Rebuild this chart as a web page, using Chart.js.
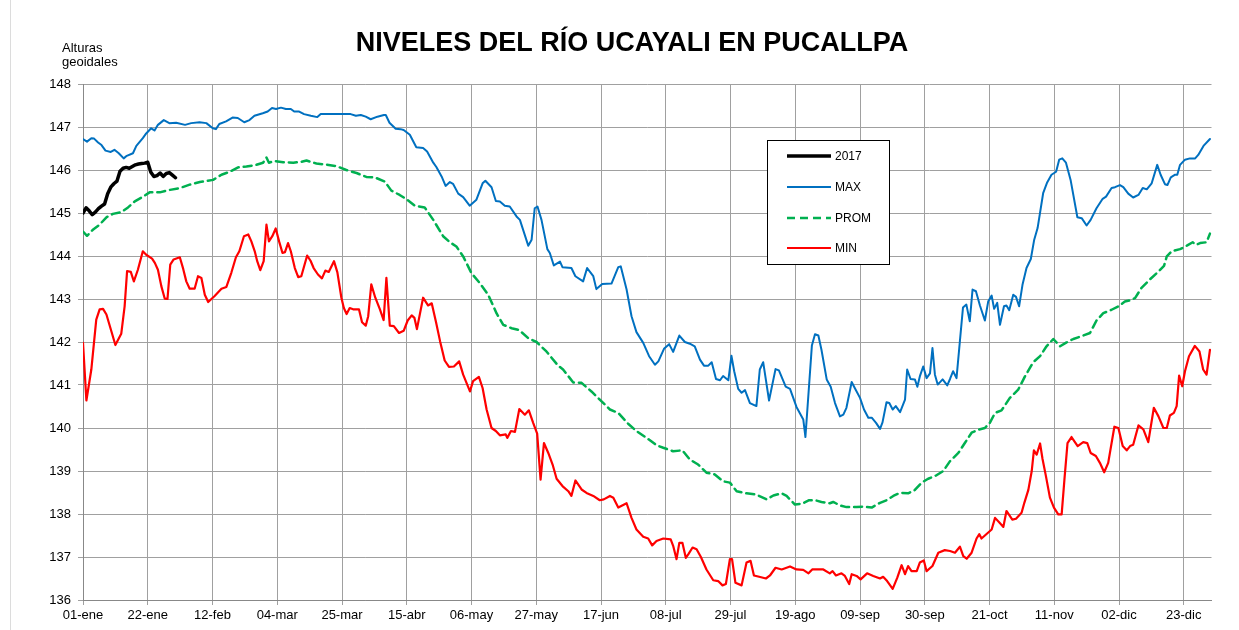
<!DOCTYPE html>
<html><head><meta charset="utf-8">
<script src="https://cdn.jsdelivr.net/npm/chart.js@4.4.1/dist/chart.umd.min.js"></script>
<style>html,body{margin:0;padding:0;background:#fff;}#wrap{position:relative;width:1239px;height:630px;}</style>
</head><body><div id="wrap"><canvas id="c" width="1239" height="630"></canvas></div>
<script>
const chartTitle = 'NIVELES DEL RÍO UCAYALI EN PUCALLPA';
const yTitleLines = ['Alturas', 'geoidales'];
const tickDays = [0,21,42,63,84,105,126,147,168,189,210,231,252,273,294,315,336,357];
const tickLabels = ['01-ene','22-ene','12-feb','04-mar','25-mar','15-abr','06-may','27-may','17-jun','08-jul','29-jul','19-ago','09-sep','30-sep','21-oct','11-nov','02-dic','23-dic'];
const seriesNames = ['2017','MAX','PROM','MIN'];

const days2017 = [0,1,2,3,4,5,6,7,8,9,10,11,12,13,14,15,16,17,18,19,20,21,22,23,24,25,26,27,28,29,30];
const vals2017 = [145.00,145.12,145.05,144.96,145.02,145.10,145.16,145.21,145.45,145.60,145.68,145.74,145.97,146.04,146.06,146.04,146.08,146.12,146.14,146.15,146.16,146.18,145.95,145.85,145.87,145.93,145.85,145.92,145.94,145.88,145.82];

const daysMax = [0,1.3,2.7,3.6,4.9,6,7.3,9,10.2,11.6,13.2,14.2,16.2,17.3,19.4,20.5,22.1,23.2,24.3,26.2,28,30.2,33.1,35.1,37.8,40,42.1,43.1,44.2,46.4,48.5,50.2,52.3,54,55.6,58.3,59.9,61.3,62.6,64.2,65.8,67.4,68.5,70.1,71.7,73.9,76,77.1,79.3,81.4,84.1,86.8,88.5,90.1,91.7,93.3,95.5,97.6,98.2,99.4,101.4,103,104,106,108.1,110.3,111.6,113.6,114.6,116.3,117.6,119,120,121.7,123.3,125.4,127.6,129.6,130.5,132.5,133.9,135.2,136.8,138.4,140.6,141.7,144.4,145.5,146.5,147.4,148.7,150.6,151.4,152.7,154.7,155.5,158.4,159.7,162.2,163.5,165.5,166.5,168.4,171.4,173.6,174.4,176.3,177.9,179.5,181.7,183.6,185.5,186.6,188.5,190.1,191.4,193.4,195.2,196.8,198.4,200.1,201.4,202.8,203.9,205.3,206.6,207.6,209.3,210.3,211.2,212.5,213.6,214.7,216.3,218.4,219.5,220.6,222.5,224.6,225.7,227.9,229.3,231.4,233.6,234.3,236.4,237.4,238.5,239.5,241.2,242.5,243.9,245.5,246.6,247.6,249.3,250.3,252,253.3,254.7,255.8,257.2,258.5,259.3,260.6,261.5,262.6,263.6,265,266.6,267.3,268.4,269.8,270.6,271.4,272.5,273.6,274.7,275.5,276.3,277.2,278.8,280.3,281.2,282.2,283.3,284.4,285.4,286.5,287.6,288.5,289.6,290.9,292.5,293.6,294.7,295.5,296.5,297.4,298.7,299.5,300.4,301.7,302.6,303.6,304.7,306,307.4,308.5,309.6,311.4,312.7,314.1,315.6,316.6,317.6,318.8,320.3,322.5,323.9,325.5,326.8,328.7,330.7,331.8,333.6,334.7,336.3,337.4,339,340.6,342.3,343.7,345,346.6,348.4,349.5,350.9,351.7,352.8,354.2,354.9,355.8,357.4,359,360.7,361.7,363.4,365.5];
const valsMax = [146.72,146.66,146.74,146.73,146.64,146.58,146.45,146.42,146.47,146.39,146.27,146.33,146.39,146.56,146.74,146.85,146.97,146.92,147.05,147.16,147.09,147.10,147.05,147.09,147.11,147.09,146.97,146.95,147.07,147.13,147.22,147.21,147.11,147.16,147.26,147.32,147.36,147.44,147.42,147.45,147.42,147.42,147.36,147.36,147.30,147.26,147.23,147.30,147.30,147.30,147.30,147.30,147.26,147.28,147.24,147.18,147.24,147.28,147.28,147.10,146.96,146.95,146.93,146.82,146.53,146.51,146.43,146.17,146.07,145.85,145.63,145.72,145.68,145.45,145.37,145.17,145.31,145.69,145.75,145.60,145.28,145.27,145.17,145.15,144.92,144.84,144.24,144.38,145.11,145.15,144.84,144.16,144.07,143.78,143.87,143.74,143.72,143.53,143.41,143.72,143.53,143.23,143.35,143.36,143.74,143.76,143.22,142.60,142.23,141.98,141.67,141.47,141.55,141.85,141.95,141.77,142.15,142.00,141.96,141.90,141.59,141.45,141.45,141.53,141.14,141.11,141.21,141.11,141.68,141.32,140.91,140.82,140.88,140.58,140.51,141.36,141.53,140.64,141.37,141.34,140.96,140.91,140.49,140.20,139.79,141.92,142.18,142.15,141.82,141.13,140.96,140.58,140.27,140.31,140.47,141.07,140.93,140.70,140.43,140.24,140.24,140.12,139.98,140.13,140.60,140.58,140.43,140.51,140.37,140.66,141.36,141.14,141.13,140.96,141.20,141.43,141.16,141.27,141.86,141.24,141.01,141.13,140.99,141.14,141.32,141.16,142.02,142.80,142.87,142.48,143.22,143.18,142.85,142.50,142.95,143.08,142.77,142.91,142.40,142.83,142.85,142.74,143.10,143.05,142.83,143.33,143.72,143.93,144.38,144.65,145.46,145.71,145.89,145.96,146.24,146.27,146.17,145.77,144.90,144.88,144.71,144.84,145.11,145.33,145.38,145.58,145.60,145.65,145.60,145.45,145.36,145.42,145.58,145.55,145.69,146.12,145.89,145.67,145.65,145.83,145.89,145.89,146.12,146.24,146.27,146.27,146.35,146.56,146.72];

const daysProm = [0,1.3,3.2,5.4,7.6,9.7,12.4,14.6,16.8,19.5,21.6,24.9,27.6,31.4,34.6,37.9,42.2,44.9,47.6,50.3,53,56.2,58.4,59.5,60.3,62.2,64.9,68.2,70.8,72.5,75.7,78.4,82.2,85.4,88.7,91.9,94.6,97.9,100,102.7,104.9,107.6,110.8,113.6,116.8,119,121.1,123.3,126,128.7,131.4,134.1,136.3,139,141.4,144.4,147.1,150.3,154.1,155.7,159,161.7,164.9,167.6,170.9,173.6,176.8,179.5,182.8,186,188.2,191.4,194.4,196.8,199.5,202.2,204.9,207.6,209.8,212,215.2,218.4,221.7,223.9,226.6,228.2,230.9,233.2,235.5,237.5,239.5,242.2,243.3,245.5,247.6,250.9,253,255.8,258.5,260.6,262.8,264.9,267.6,269.8,272,274.1,276.8,279,281.2,283.9,286,288.2,290.4,292.5,294.1,295.8,297.9,300.6,303.3,305.5,308.2,310.4,312.5,314.7,316.9,319,321.2,324.4,326.6,328.7,330.9,333.6,335.8,337.9,339.6,341.2,343.3,346.1,348.8,350.6,351.5,353.1,355.8,358,359.9,361,362.3,364.4,365.5];
const valsProm = [144.57,144.47,144.61,144.73,144.90,144.98,145.02,145.13,145.27,145.38,145.48,145.48,145.53,145.58,145.66,145.72,145.77,145.89,145.96,146.06,146.08,146.12,146.17,146.29,146.17,146.21,146.18,146.17,146.19,146.22,146.15,146.13,146.09,146.00,145.93,145.84,145.83,145.73,145.52,145.42,145.32,145.17,145.13,144.84,144.46,144.32,144.22,143.99,143.60,143.37,143.10,142.67,142.40,142.32,142.28,142.09,142.00,141.78,141.45,141.36,141.06,141.05,140.85,140.66,140.43,140.35,140.10,139.93,139.77,139.60,139.54,139.46,139.48,139.27,139.15,138.96,138.92,138.76,138.73,138.53,138.48,138.45,138.34,138.43,138.48,138.42,138.22,138.24,138.32,138.32,138.28,138.25,138.28,138.20,138.16,138.16,138.17,138.15,138.26,138.32,138.42,138.49,138.48,138.56,138.73,138.82,138.90,139.00,139.23,139.42,139.65,139.89,139.96,140.00,140.12,140.35,140.41,140.70,140.89,141.20,141.53,141.67,141.90,142.07,141.90,141.99,142.07,142.15,142.21,142.50,142.67,142.75,142.83,142.94,142.97,143.02,143.26,143.46,143.64,143.77,143.99,144.11,144.16,144.24,144.32,144.26,144.30,144.32,144.52];

const daysMin = [0,1.1,2.7,4.3,5.4,6.5,7.6,9.2,10.5,12.4,13.5,14.3,15.5,16.5,17.8,19.4,20.5,22.4,23.3,24.3,25.4,26.5,27.4,28.3,29.4,31.4,32.5,33.5,34.6,36.2,37.3,38.4,39.5,40.6,42.7,44.9,46.5,48.1,49.6,50.7,52.2,53.6,54.6,55.7,56.5,57.5,58.6,59.5,60.3,61.4,62.5,63.6,64.7,65.5,66.5,67.4,68.7,69.8,70.8,72.7,73.8,74.8,76.2,77.5,78.6,79.7,81.4,82.5,83.8,84.6,85.5,86.5,87.6,89.5,90.5,91.7,92.5,93.5,94.8,96.3,97.5,98.4,99.5,100.8,102.5,104,105.3,106.6,107.5,108.3,110.3,111.9,113.1,114.5,115.8,117.3,118.7,120.3,122,123.3,125.5,126.5,128.4,129.6,130.9,132.5,133.9,135.2,137.1,137.6,138.8,140.1,141.5,143.3,144.6,146,147.3,148.4,149.5,150.9,152.3,153.6,155.5,157.4,158.4,159.7,161.7,163.3,165.5,167.6,168.9,170.9,172,173.6,176.3,177.9,179.5,181.7,183.3,184.6,186,188.2,190.6,191.4,192.5,193.4,194.4,195.5,196.3,197.7,199,200.4,202.2,204.4,206,207.4,208.5,209.8,210.5,211.6,213.6,215.2,216.5,217.6,219.3,221.5,222.8,224.6,226.6,229.3,231.4,233.6,235.3,236.5,240.1,242.2,243.1,244.2,246,247.1,248.5,249.3,250.9,252.2,254.3,256.3,258.5,259.5,260.8,262.6,264.1,265.5,266.6,267.6,268.7,270.4,271.4,272.7,273.6,275.5,277.4,279.5,281.2,282.8,284.4,285.5,286.6,288.2,289.8,290.7,291.4,293.6,294.7,295.8,297.2,298.5,299.5,301.4,302.6,304.4,305.3,306.6,307.7,308.4,309.3,310.4,311.2,312.3,313.6,314.9,316.3,317.4,318.3,319.3,320.6,322.6,324.4,325.7,326.8,328.5,329.8,331.2,332.5,334.5,335.8,337.2,338.5,339.6,340.6,342.3,343.9,345.5,347.3,348.8,350.4,351.5,352.5,353.8,354.7,355.5,356.5,357.4,358.7,360.6,362.1,363.3,364.4,365.5];
const valsMin = [141.98,140.64,141.36,142.52,142.76,142.77,142.64,142.25,141.93,142.19,142.83,143.65,143.63,143.41,143.68,144.11,144.03,143.94,143.84,143.68,143.30,143.01,143.00,143.80,143.92,143.97,143.70,143.41,143.24,143.24,143.53,143.49,143.10,142.93,143.07,143.24,143.28,143.61,143.97,144.11,144.46,144.50,144.34,144.11,143.88,143.67,143.88,144.73,144.34,144.46,144.64,144.34,144.07,144.09,144.30,144.11,143.72,143.51,143.53,144.01,143.89,143.72,143.57,143.48,143.66,143.63,143.88,143.62,143.03,142.79,142.65,142.79,142.76,142.76,142.46,142.38,142.60,143.34,143.03,142.76,142.51,143.49,142.38,142.37,142.21,142.26,142.50,142.62,142.56,142.30,143.03,142.85,142.90,142.46,142.02,141.57,141.42,141.43,141.55,141.24,140.85,141.09,141.19,140.93,140.43,140.00,139.93,139.83,139.85,139.77,139.93,139.91,140.44,140.31,140.41,140.12,139.87,138.80,139.65,139.42,139.15,138.82,138.65,138.53,138.42,138.78,138.57,138.49,138.42,138.32,138.34,138.42,138.38,138.15,138.25,137.91,137.64,137.47,137.43,137.27,137.37,137.43,137.41,137.26,136.95,137.33,137.33,136.98,137.06,137.22,137.18,137.00,136.71,136.46,136.44,136.34,136.37,136.95,136.95,136.40,136.34,136.87,136.91,136.57,136.54,136.50,136.57,136.75,136.71,136.78,136.71,136.70,136.62,136.71,136.71,136.62,136.67,136.57,136.62,136.56,136.37,136.60,136.56,136.48,136.62,136.56,136.50,136.54,136.44,136.26,136.52,136.81,136.60,136.79,136.67,136.67,136.87,136.92,136.67,136.79,137.10,137.16,137.14,137.10,137.24,137.02,136.96,137.10,137.43,137.53,137.43,137.57,137.64,137.91,137.80,137.70,138.07,137.87,137.89,138.03,138.26,138.56,139.00,139.48,139.38,139.64,139.28,138.88,138.38,138.15,137.99,137.99,138.80,139.65,139.79,139.58,139.67,139.65,139.42,139.35,139.19,138.97,139.19,140.03,140.00,139.58,139.48,139.58,139.61,140.06,139.97,139.67,140.47,140.27,140.00,140.00,140.29,140.35,140.51,141.22,140.97,141.32,141.67,141.91,141.78,141.36,141.24,141.82];

function pts(d, v) { return d.map((x, i) => ({ x: x, y: v[i] })); }
const FONT = "'Liberation Sans', Arial, sans-serif";

const decorPlugin = {
  id: 'decor',
  beforeDraw(chart) {
    const ctx = chart.ctx;
    ctx.save();
    ctx.fillStyle = '#fff';
    ctx.fillRect(0, 0, chart.width, chart.height);
    ctx.strokeStyle = '#dcdcdc';
    ctx.lineWidth = 1;
    ctx.beginPath(); ctx.moveTo(10.5, 0); ctx.lineTo(10.5, chart.height); ctx.stroke();
    ctx.restore();
  },
  afterDraw(chart) {
    const ctx = chart.ctx;
    ctx.save();
    ctx.fillStyle = '#000';
    ctx.font = 'bold 27px ' + FONT;
    ctx.textAlign = 'center';
    ctx.textBaseline = 'middle';
    ctx.fillText(chartTitle, 632, 44);
    ctx.font = '13px ' + FONT;
    ctx.textAlign = 'left';
    ctx.textBaseline = 'alphabetic';
    ctx.fillText(yTitleLines[0], 62, 52);
    ctx.fillText(yTitleLines[1], 62, 66);
    const bx = 767.5, by = 140.5, bw = 122, bh = 124;
    ctx.fillStyle = '#fff';
    ctx.fillRect(bx, by, bw, bh);
    ctx.strokeStyle = '#000';
    ctx.lineWidth = 1;
    ctx.setLineDash([]);
    ctx.strokeRect(bx, by, bw, bh);
    const rows = [156, 187, 218, 248];
    chart.data.datasets.forEach((ds, i) => {
      ctx.strokeStyle = ds.borderColor;
      ctx.lineWidth = ds.borderWidth;
      ctx.setLineDash(ds.borderDash || []);
      ctx.beginPath(); ctx.moveTo(787, rows[i]); ctx.lineTo(831, rows[i]); ctx.stroke();
      ctx.setLineDash([]);
      ctx.fillStyle = '#000';
      ctx.font = '12px ' + FONT;
      ctx.textBaseline = 'middle';
      ctx.fillText(ds.label, 835, rows[i] + 0.5);
    });
    ctx.restore();
  }
};

new Chart(document.getElementById('c'), {
  type: 'line',
  data: {
    datasets: [
      { label: seriesNames[0], data: pts(days2017, vals2017), borderColor: '#000000', borderWidth: 3.5, order: 0 },
      { label: seriesNames[1], data: pts(daysMax, valsMax), borderColor: '#0070C0', borderWidth: 2, order: 1 },
      { label: seriesNames[2], data: pts(daysProm, valsProm), borderColor: '#00B050', borderWidth: 2.5, borderDash: [8, 5], order: 2 },
      { label: seriesNames[3], data: pts(daysMin, valsMin), borderColor: '#FF0000', borderWidth: 2.2, order: 3 }
    ]
  },
  options: {
    responsive: false,
    animation: false,
    devicePixelRatio: 1,
    elements: { point: { radius: 0 }, line: { tension: 0, fill: false, borderCapStyle: 'round', borderJoinStyle: 'round' } },
    layout: { padding: { top: 84, left: 0, right: 27.5, bottom: 0 } },
    plugins: { legend: { display: false }, title: { display: false }, tooltip: { enabled: false } },
    scales: {
      x: {
        type: 'linear', min: 0, max: 366,
        afterBuildTicks(scale) { scale.ticks = tickDays.map(v => ({ value: v })); },
        afterFit(scale) { scale.height = 30; },
        ticks: {
          autoSkip: false, maxRotation: 0, padding: 3, color: '#000',
          font: { family: FONT, size: 13 },
          callback(v) { const i = tickDays.indexOf(v); return i >= 0 ? tickLabels[i] : ''; }
        },
        grid: { color: '#a0a0a0', lineWidth: 1, tickLength: 5, drawTicks: true },
        border: { color: '#888888', width: 1 }
      },
      y: {
        min: 136, max: 148,
        afterFit(scale) { scale.width = 83; },
        ticks: { stepSize: 1, padding: 7, color: '#000', font: { family: FONT, size: 13 } },
        grid: { color: '#a0a0a0', lineWidth: 1, tickLength: 5 },
        border: { color: '#888888', width: 1 }
      }
    }
  },
  plugins: [decorPlugin]
});
</script></body></html>
